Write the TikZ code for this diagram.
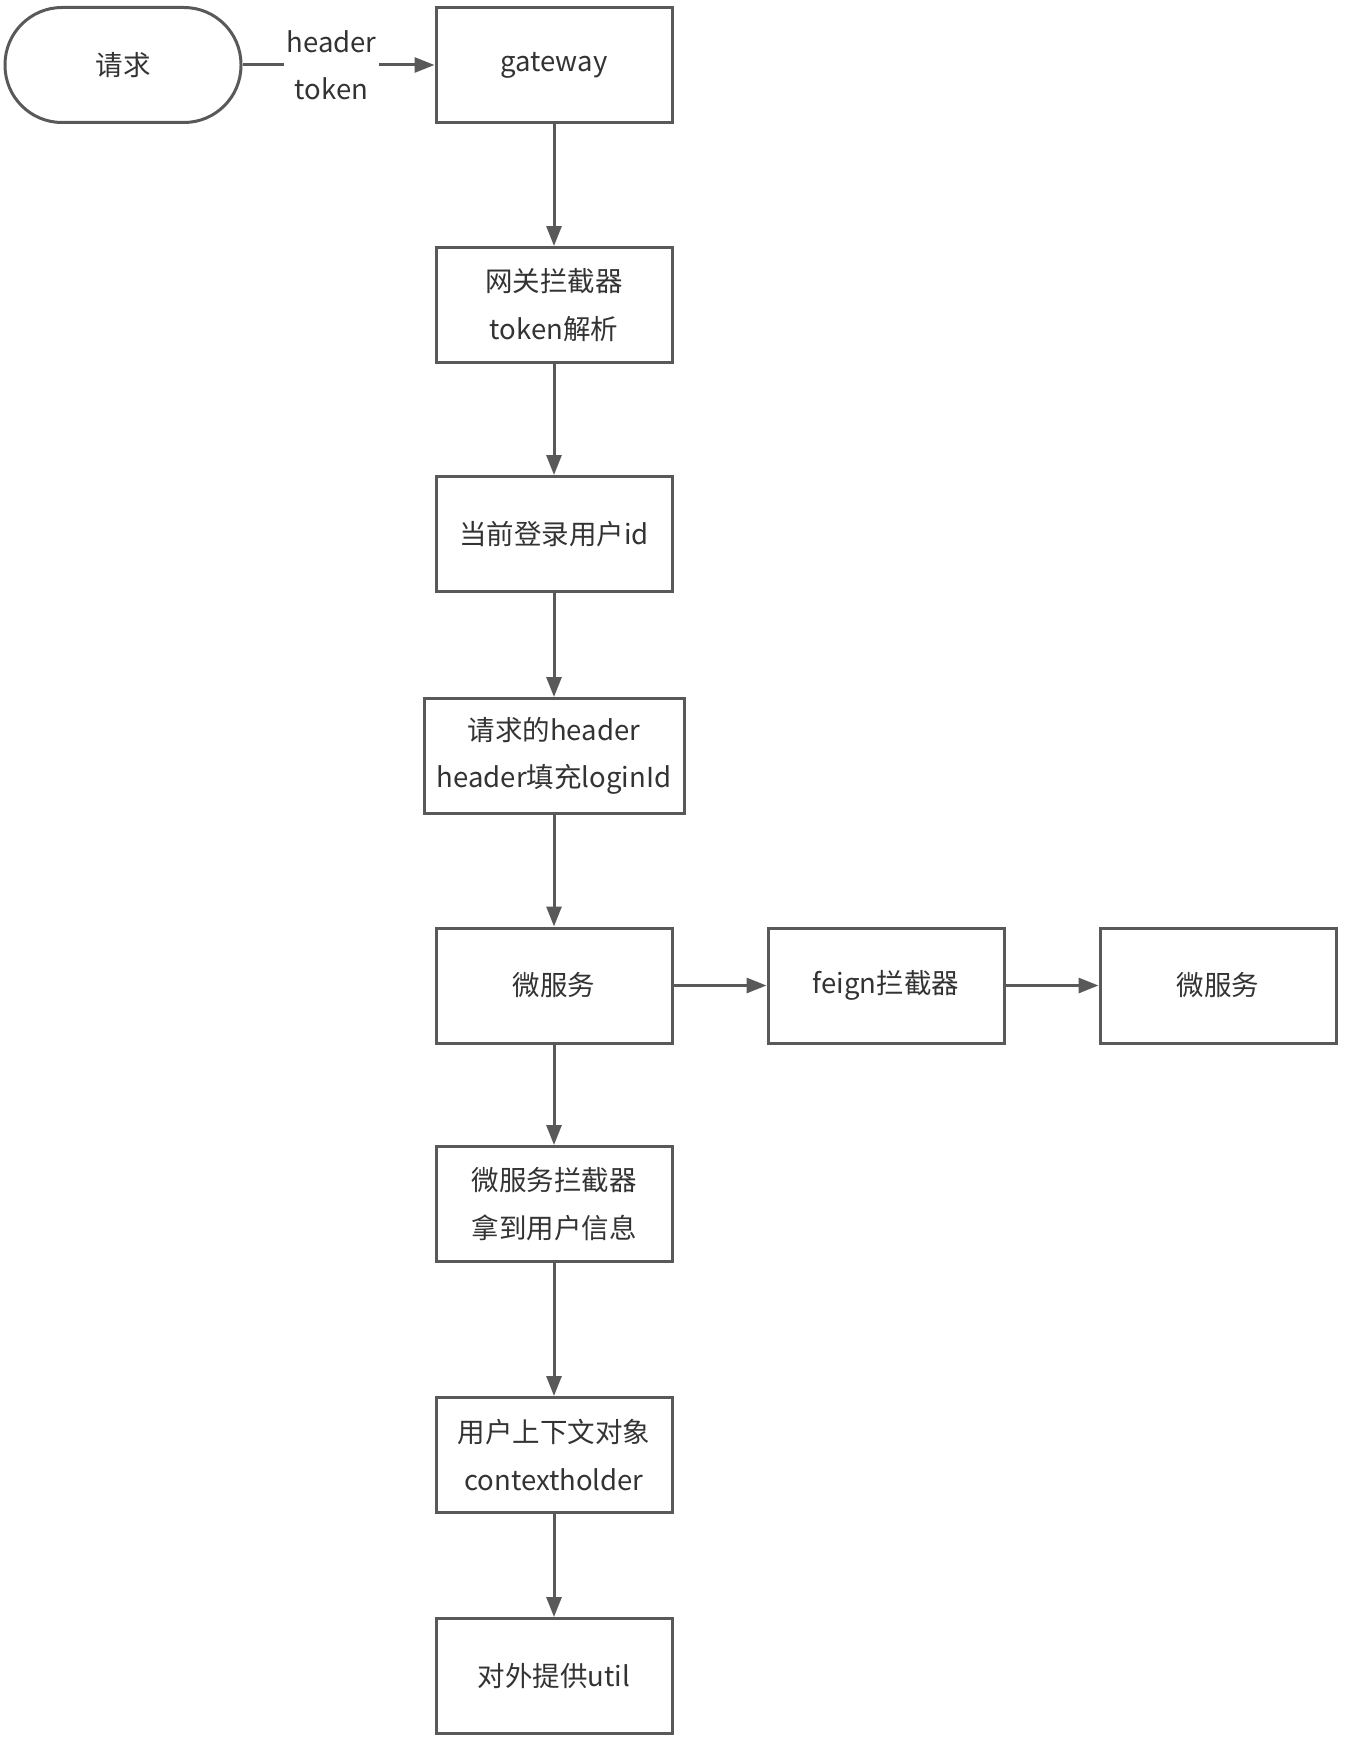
\documentclass[tikz,border=0pt]{standalone}
\usepackage{fontspec}
\setmainfont{Noto Sans CJK SC}
\usetikzlibrary{arrows.meta}
\definecolor{ln}{HTML}{595959}
\definecolor{tx}{HTML}{333333}
\tikzset{
  box/.style={draw=ln, line width=3pt, fill=white, minimum width=236pt, minimum height=115pt, inner sep=0pt, align=center, font=\fontsize{27.5}{47.5}\selectfont, text=tx},
  term/.style={box, rounded corners=57pt},
  conn/.style={draw=ln, line width=3pt, -{Triangle[length=20pt,width=15pt]}},
  lbl/.style={fill=white, inner sep=3pt, align=center, font=\fontsize{27.5}{47.5}\selectfont, text=tx}
}
\begin{document}
\begin{tikzpicture}[x=1pt,y=-1pt]
\useasboundingbox (0,0) rectangle (1346,1742);
\node[term] (req) at (123,65) {请求};
\node[box] (gw) at (554,65) {gateway};
\node[box] (gi) at (554,305) {网关拦截器\\token解析};
\node[box] (uid) at (554,534) {当前登录用户id};
\node[box, minimum width=260pt] (hdr) at (554,756) {请求的header\\header填充loginId};
\node[box] (ms) at (554,985.5) {微服务};
\node[box] (fg) at (886,985.5) {feign拦截器};
\node[box] (ms2) at (1218,985.5) {微服务};
\node[box] (mi) at (554,1204) {微服务拦截器\\拿到用户信息};
\node[box] (ctx) at (554,1455) {用户上下文对象\\contextholder};
\node[box] (ut) at (554,1676) {对外提供util};
\draw[conn] (req) -- node[lbl, xshift=-7pt] {header\\token} (gw);
\draw[conn] (gw) -- (gi);
\draw[conn] (gi) -- (uid);
\draw[conn] (uid) -- (hdr);
\draw[conn] (hdr) -- (ms);
\draw[conn] (ms) -- (fg);
\draw[conn] (fg) -- (ms2);
\draw[conn] (ms) -- (mi);
\draw[conn] (mi) -- (ctx);
\draw[conn] (ctx) -- (ut);
\end{tikzpicture}
\end{document}
